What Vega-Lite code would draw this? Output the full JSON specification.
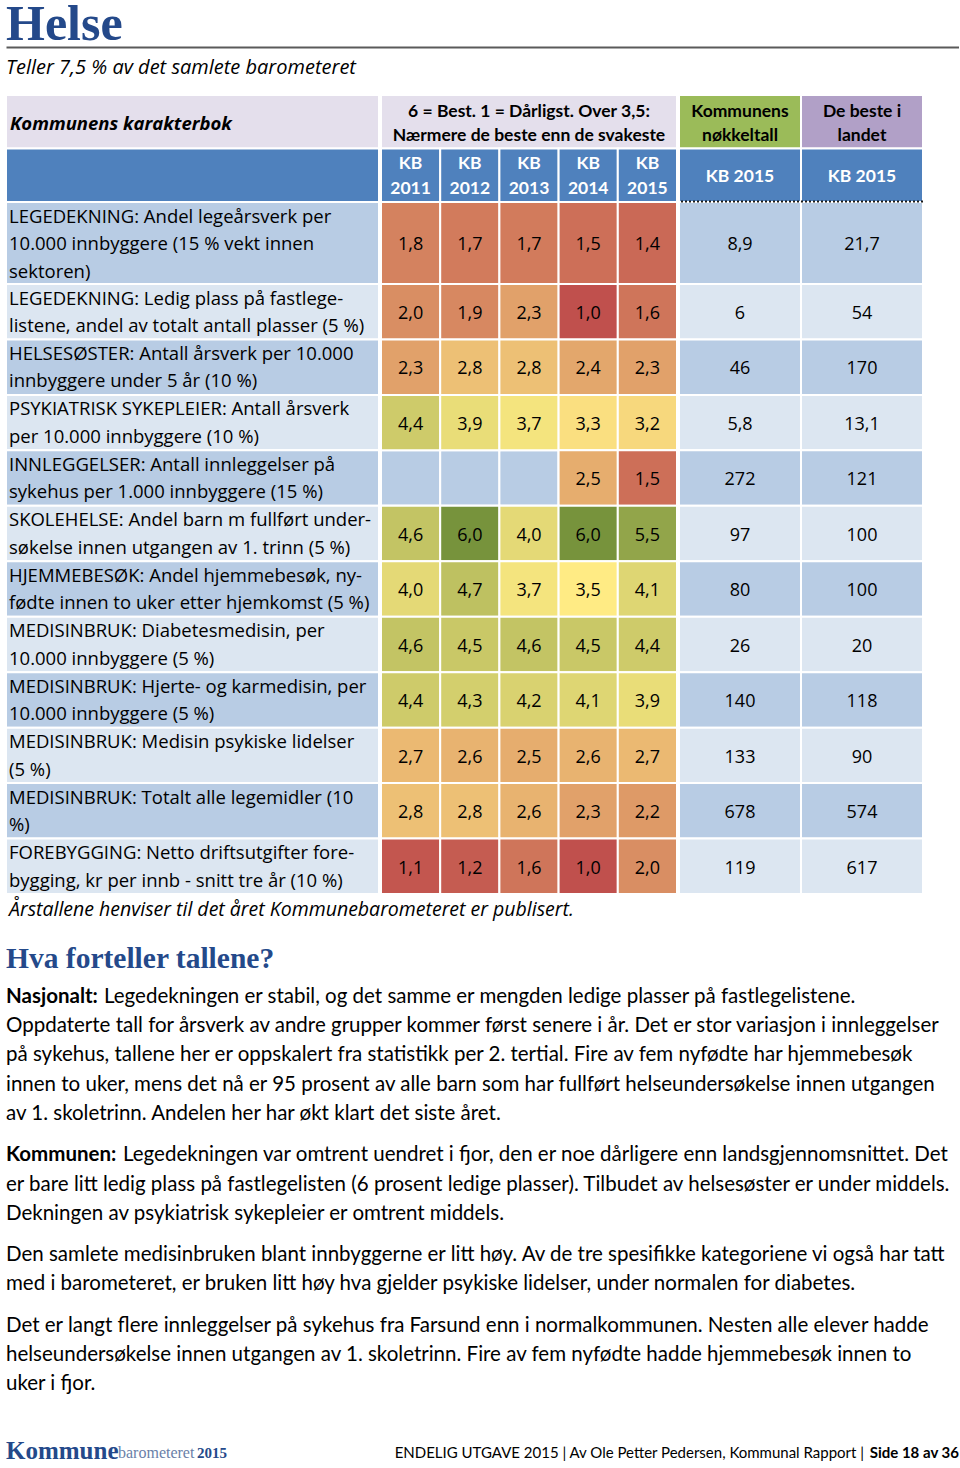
{
  "$schema": "https://vega.github.io/schema/vega-lite/v6.json",
  "background": "white",
  "padding": {"left": 5, "top": 0, "right": 0, "bottom": 0},
  "spacing": 0,
  "config": {
    "view": {"stroke": null},
    "locale": {"number": {"decimal": ",", "thousands": " ", "grouping": [3], "currency": ["", " kr"]}}
  },
  "datasets": {
    "labels": [
      {"r": -2, "label": ["Kommunens karakterbok"]},
      {"r": -1, "label": [""]},
      {"r": 0, "label": ["LEGEDEKNING: Andel legeårsverk per", "10.000 innbyggere (15 % vekt innen", "sektoren)"]},
      {"r": 1, "label": ["LEGEDEKNING: Ledig plass på fastlege-", "listene, andel av totalt antall plasser (5 %)"]},
      {"r": 2, "label": ["HELSESØSTER: Antall årsverk per 10.000", "innbyggere under 5 år (10 %)"]},
      {"r": 3, "label": ["PSYKIATRISK SYKEPLEIER: Antall årsverk", "per 10.000 innbyggere (10 %)"]},
      {"r": 4, "label": ["INNLEGGELSER: Antall innleggelser på", "sykehus per 1.000 innbyggere (15 %)"]},
      {"r": 5, "label": ["SKOLEHELSE: Andel barn m fullført under-", "søkelse innen utgangen av 1. trinn (5 %)"]},
      {"r": 6, "label": ["HJEMMEBESØK: Andel hjemmebesøk, ny-", "fødte innen to uker etter hjemkomst (5 %)"]},
      {"r": 7, "label": ["MEDISINBRUK: Diabetesmedisin, per", "10.000 innbyggere (5 %)"]},
      {"r": 8, "label": ["MEDISINBRUK: Hjerte- og karmedisin, per", "10.000 innbyggere (5 %)"]},
      {"r": 9, "label": ["MEDISINBRUK: Medisin psykiske lidelser", "(5 %)"]},
      {"r": 10, "label": ["MEDISINBRUK: Totalt alle legemidler (10", "%)"]},
      {"r": 11, "label": ["FOREBYGGING: Netto driftsutgifter fore-", "bygging, kr per innb - snitt tre år (10 %)"]}
    ],
    "yearheads": [
      {"r": -2, "text": ["6 = Best. 1 = Dårligst. Over 3,5:", "Nærmere de beste enn de svakeste"]},
      {"r": -1, "year": "2011", "text": ["KB", "2011"]},
      {"r": -1, "year": "2012", "text": ["KB", "2012"]},
      {"r": -1, "year": "2013", "text": ["KB", "2013"]},
      {"r": -1, "year": "2014", "text": ["KB", "2014"]},
      {"r": -1, "year": "2015", "text": ["KB", "2015"]}
    ],
    "grades": [
      {"r": 0, "year": "2011", "grade": 1.8}, {"r": 0, "year": "2012", "grade": 1.7}, {"r": 0, "year": "2013", "grade": 1.7}, {"r": 0, "year": "2014", "grade": 1.5}, {"r": 0, "year": "2015", "grade": 1.4},
      {"r": 1, "year": "2011", "grade": 2.0}, {"r": 1, "year": "2012", "grade": 1.9}, {"r": 1, "year": "2013", "grade": 2.3}, {"r": 1, "year": "2014", "grade": 1.0}, {"r": 1, "year": "2015", "grade": 1.6},
      {"r": 2, "year": "2011", "grade": 2.3}, {"r": 2, "year": "2012", "grade": 2.8}, {"r": 2, "year": "2013", "grade": 2.8}, {"r": 2, "year": "2014", "grade": 2.4}, {"r": 2, "year": "2015", "grade": 2.3},
      {"r": 3, "year": "2011", "grade": 4.4}, {"r": 3, "year": "2012", "grade": 3.9}, {"r": 3, "year": "2013", "grade": 3.7}, {"r": 3, "year": "2014", "grade": 3.3}, {"r": 3, "year": "2015", "grade": 3.2},
      {"r": 4, "year": "2011", "grade": null}, {"r": 4, "year": "2012", "grade": null}, {"r": 4, "year": "2013", "grade": null}, {"r": 4, "year": "2014", "grade": 2.5}, {"r": 4, "year": "2015", "grade": 1.5},
      {"r": 5, "year": "2011", "grade": 4.6}, {"r": 5, "year": "2012", "grade": 6.0}, {"r": 5, "year": "2013", "grade": 4.0}, {"r": 5, "year": "2014", "grade": 6.0}, {"r": 5, "year": "2015", "grade": 5.5},
      {"r": 6, "year": "2011", "grade": 4.0}, {"r": 6, "year": "2012", "grade": 4.7}, {"r": 6, "year": "2013", "grade": 3.7}, {"r": 6, "year": "2014", "grade": 3.5}, {"r": 6, "year": "2015", "grade": 4.1},
      {"r": 7, "year": "2011", "grade": 4.6}, {"r": 7, "year": "2012", "grade": 4.5}, {"r": 7, "year": "2013", "grade": 4.6}, {"r": 7, "year": "2014", "grade": 4.5}, {"r": 7, "year": "2015", "grade": 4.4},
      {"r": 8, "year": "2011", "grade": 4.4}, {"r": 8, "year": "2012", "grade": 4.3}, {"r": 8, "year": "2013", "grade": 4.2}, {"r": 8, "year": "2014", "grade": 4.1}, {"r": 8, "year": "2015", "grade": 3.9},
      {"r": 9, "year": "2011", "grade": 2.7}, {"r": 9, "year": "2012", "grade": 2.6}, {"r": 9, "year": "2013", "grade": 2.5}, {"r": 9, "year": "2014", "grade": 2.6}, {"r": 9, "year": "2015", "grade": 2.7},
      {"r": 10, "year": "2011", "grade": 2.8}, {"r": 10, "year": "2012", "grade": 2.8}, {"r": 10, "year": "2013", "grade": 2.6}, {"r": 10, "year": "2014", "grade": 2.3}, {"r": 10, "year": "2015", "grade": 2.2},
      {"r": 11, "year": "2011", "grade": 1.1}, {"r": 11, "year": "2012", "grade": 1.2}, {"r": 11, "year": "2013", "grade": 1.6}, {"r": 11, "year": "2014", "grade": 1.0}, {"r": 11, "year": "2015", "grade": 2.0}
    ],
    "keyheads": [
      {"r": -2, "m": "Kommunens", "text": ["Kommunens", "nøkkeltall"]},
      {"r": -2, "m": "Beste", "text": ["De beste i", "landet"]},
      {"r": -1, "m": "Kommunens", "text": "KB 2015"},
      {"r": -1, "m": "Beste", "text": "KB 2015"}
    ],
    "keys": [
      {"r": 0, "m": "Kommunens", "v": 8.9}, {"r": 0, "m": "Beste", "v": 21.7},
      {"r": 1, "m": "Kommunens", "v": 6}, {"r": 1, "m": "Beste", "v": 54},
      {"r": 2, "m": "Kommunens", "v": 46}, {"r": 2, "m": "Beste", "v": 170},
      {"r": 3, "m": "Kommunens", "v": 5.8}, {"r": 3, "m": "Beste", "v": 13.1},
      {"r": 4, "m": "Kommunens", "v": 272}, {"r": 4, "m": "Beste", "v": 121},
      {"r": 5, "m": "Kommunens", "v": 97}, {"r": 5, "m": "Beste", "v": 100},
      {"r": 6, "m": "Kommunens", "v": 80}, {"r": 6, "m": "Beste", "v": 100},
      {"r": 7, "m": "Kommunens", "v": 26}, {"r": 7, "m": "Beste", "v": 20},
      {"r": 8, "m": "Kommunens", "v": 140}, {"r": 8, "m": "Beste", "v": 118},
      {"r": 9, "m": "Kommunens", "v": 133}, {"r": 9, "m": "Beste", "v": 90},
      {"r": 10, "m": "Kommunens", "v": 678}, {"r": 10, "m": "Beste", "v": 574},
      {"r": 11, "m": "Kommunens", "v": 119}, {"r": 11, "m": "Beste", "v": 617}
    ],
    "para": [
      {"p": "P1", "line": 1, "lead": "Nasjonalt:", "text": "Legedekningen er stabil, og det samme er mengden ledige plasser på fastlegelistene."},
      {"p": "P1", "line": 2, "text": "Oppdaterte tall for årsverk av andre grupper kommer først senere i år. Det er stor variasjon i innleggelser"},
      {"p": "P1", "line": 3, "text": "på sykehus, tallene her er oppskalert fra statistikk per 2. tertial. Fire av fem nyfødte har hjemmebesøk"},
      {"p": "P1", "line": 4, "text": "innen to uker, mens det nå er 95 prosent av alle barn som har fullført helseundersøkelse innen utgangen"},
      {"p": "P1", "line": 5, "text": "av 1. skoletrinn. Andelen her har økt klart det siste året."},
      {"p": "P2", "line": 1, "lead": "Kommunen:", "text": "Legedekningen var omtrent uendret i fjor, den er noe dårligere enn landsgjennomsnittet. Det"},
      {"p": "P2", "line": 2, "text": "er bare litt ledig plass på fastlegelisten (6 prosent ledige plasser). Tilbudet av helsesøster er under middels."},
      {"p": "P2", "line": 3, "text": "Dekningen av psykiatrisk sykepleier er omtrent middels."},
      {"p": "P3", "line": 1, "text": "Den samlete medisinbruken blant innbyggerne er litt høy. Av de tre spesifikke kategoriene vi også har tatt"},
      {"p": "P3", "line": 2, "text": "med i barometeret, er bruken litt høy hva gjelder psykiske lidelser, under normalen for diabetes."},
      {"p": "P4", "line": 1, "text": "Det er langt flere innleggelser på sykehus fra Farsund enn i normalkommunen. Nesten alle elever hadde"},
      {"p": "P4", "line": 2, "text": "helseundersøkelse innen utgangen av 1. skoletrinn. Fire av fem nyfødte hadde hjemmebesøk innen to"},
      {"p": "P4", "line": 3, "text": "uker i fjor."}
    ]
  },
  "vconcat": [
    {
      "width": 953, "height": 46,
      "data": {"values": [{"t": "Helse"}]},
      "mark": {"type": "text", "align": "left", "baseline": "alphabetic", "dy": 16, "font": "Liberation Serif", "fontWeight": "bold", "fontSize": 50, "color": "#24498A"},
      "encoding": {
        "x": {"field": "t", "type": "nominal", "scale": {"type": "point", "padding": 0, "align": 0},
              "axis": {"orient": "bottom", "domain": true, "domainColor": "#5A5A5A", "domainWidth": 2, "ticks": false, "labels": false, "title": null, "grid": false}},
        "text": {"field": "t"}
      }
    },
    {
      "width": 953, "height": 42,
      "data": {"values": [{"t": "Teller 7,5 % av det samlete barometeret"}]},
      "mark": {"type": "text", "align": "left", "baseline": "middle", "dy": -3, "font": "Open Sans", "fontStyle": "italic", "fontSize": 20, "color": "#000000"},
      "encoding": {
        "x": {"field": "t", "type": "nominal", "scale": {"type": "point", "padding": 0, "align": 0}, "axis": null},
        "text": {"field": "t"}
      }
    },
    {
      "spacing": 0,
      "hconcat": [
        {
          "width": 373, "height": 802,
          "data": {"name": "labels"},
          "resolve": {"scale": {"y": "independent"}},
          "layer": [
            {
              "mark": {"type": "rect", "stroke": "white", "strokeWidth": 2},
              "encoding": {
                "x": {"datum": "Indikator", "type": "nominal", "axis": null, "scale": {"paddingInner": 0, "paddingOuter": 0}},
                "y": {"field": "r", "type": "quantitative", "bin": {"binned": true, "step": 1}, "axis": null,
                      "scale": {"type": "linear", "domain": [-2, 0, 1, 12], "range": [2.5, 109.5, 191.5, 801.5], "zero": false, "nice": false}},
                "color": {"condition": [
                  {"test": "datum.r === -2", "value": "#E4DFEC"},
                  {"test": "datum.r === -1", "value": "#4F81BD"},
                  {"test": "datum.r % 2 === 0", "value": "#B8CCE4"}], "value": "#DCE6F1"}
              }
            },
            {
              "transform": [{"filter": "datum.r >= 0"}],
              "mark": {"type": "text", "align": "left", "baseline": "middle", "dx": 3, "dy": 15, "font": "Open Sans", "fontSize": 18.5, "lineHeight": 27.5, "color": "#000000"},
              "encoding": {
                "x": {"datum": "Indikator", "type": "nominal", "bandPosition": 0, "axis": null, "scale": {"paddingInner": 0, "paddingOuter": 0}},
                "y": {"field": "r", "type": "quantitative", "axis": null,
                      "scale": {"type": "linear", "domain": [-2, 0, 1, 12], "range": [2.5, 109.5, 191.5, 801.5], "zero": false, "nice": false}},
                "text": {"field": "label"}
              }
            },
            {
              "transform": [{"filter": "datum.r === -2"}],
              "mark": {"type": "text", "align": "left", "baseline": "middle", "dx": 4, "dy": 2.5, "font": "Open Sans", "fontStyle": "italic", "fontWeight": "bold", "fontSize": 18.5, "color": "#000000"},
              "encoding": {
                "x": {"datum": "Indikator", "type": "nominal", "bandPosition": 0, "axis": null, "scale": {"paddingInner": 0, "paddingOuter": 0}},
                "y": {"field": "r", "type": "quantitative", "axis": null,
                      "scale": {"type": "linear", "domain": [-2, -1, 0, 1, 11], "range": [29.25, 82.75, 150.5, 219.2, 774.1], "zero": false, "nice": false}},
                "text": {"field": "label"}
              }
            }
          ]
        },
        {
          "width": 296, "height": 802,
          "resolve": {"scale": {"y": "independent"}},
          "layer": [
            {
              "data": {"name": "yearheads"},
              "transform": [{"filter": "datum.r === -2"}],
              "mark": {"type": "rect", "stroke": "white", "strokeWidth": 2, "color": "#E4DFEC"},
              "encoding": {
                "y": {"field": "r", "type": "quantitative", "bin": {"binned": true, "step": 1}, "axis": null,
                      "scale": {"type": "linear", "domain": [-2, 0, 1, 12], "range": [2.5, 109.5, 191.5, 801.5], "zero": false, "nice": false}}
              }
            },
            {
              "data": {"name": "yearheads"},
              "transform": [{"filter": "datum.r === -2"}],
              "mark": {"type": "text", "align": "center", "baseline": "middle", "dy": 17, "font": "Lato", "fontWeight": "bold", "fontSize": 17.5, "lineHeight": 24, "color": "#000000"},
              "encoding": {
                "y": {"field": "r", "type": "quantitative", "axis": null,
                      "scale": {"type": "linear", "domain": [-2, 0, 1, 12], "range": [2.5, 109.5, 191.5, 801.5], "zero": false, "nice": false}},
                "text": {"field": "text"}
              }
            },
            {
              "data": {"name": "yearheads"},
              "transform": [{"filter": "datum.r === -1"}],
              "mark": {"type": "rect", "stroke": "white", "strokeWidth": 2, "color": "#4F81BD"},
              "encoding": {
                "x": {"field": "year", "type": "nominal", "axis": null, "scale": {"domain": ["2011", "2012", "2013", "2014", "2015"], "paddingInner": 0, "paddingOuter": 0}},
                "y": {"field": "r", "type": "quantitative", "bin": {"binned": true, "step": 1}, "axis": null,
                      "scale": {"type": "linear", "domain": [-2, 0, 1, 12], "range": [2.5, 109.5, 191.5, 801.5], "zero": false, "nice": false}}
              }
            },
            {
              "data": {"name": "yearheads"},
              "transform": [{"filter": "datum.r === -1"}],
              "mark": {"type": "text", "align": "center", "baseline": "middle", "dy": 16, "font": "Lato", "fontWeight": "bold", "fontSize": 17.5, "lineHeight": 24.5, "color": "#FFFFFF"},
              "encoding": {
                "x": {"field": "year", "type": "nominal", "axis": null, "scale": {"domain": ["2011", "2012", "2013", "2014", "2015"], "paddingInner": 0, "paddingOuter": 0}},
                "y": {"field": "r", "type": "quantitative", "axis": null,
                      "scale": {"type": "linear", "domain": [-2, 0, 1, 12], "range": [2.5, 109.5, 191.5, 801.5], "zero": false, "nice": false}},
                "text": {"field": "text"}
              }
            },
            {
              "data": {"name": "grades"},
              "mark": {"type": "rect", "stroke": "white", "strokeWidth": 2},
              "encoding": {
                "x": {"field": "year", "type": "nominal", "axis": null, "scale": {"domain": ["2011", "2012", "2013", "2014", "2015"], "paddingInner": 0, "paddingOuter": 0}},
                "y": {"field": "r", "type": "quantitative", "bin": {"binned": true, "step": 1}, "axis": null,
                      "scale": {"type": "linear", "domain": [-2, 0, 1, 12], "range": [2.5, 109.5, 191.5, 801.5], "zero": false, "nice": false}},
                "color": {"condition": {"test": "datum.r % 2 === 0", "value": "#B8CCE4"}, "value": "#DCE6F1"}
              }
            },
            {
              "data": {"name": "grades"},
              "mark": {"type": "rect", "stroke": "white", "strokeWidth": 2},
              "encoding": {
                "x": {"field": "year", "type": "nominal", "axis": null, "scale": {"domain": ["2011", "2012", "2013", "2014", "2015"], "paddingInner": 0, "paddingOuter": 0}},
                "y": {"field": "r", "type": "quantitative", "bin": {"binned": true, "step": 1}, "axis": null,
                      "scale": {"type": "linear", "domain": [-2, 0, 1, 12], "range": [2.5, 109.5, 191.5, 801.5], "zero": false, "nice": false}},
                "color": {"field": "grade", "type": "quantitative", "legend": null,
                          "scale": {"domain": [1, 3.5, 6], "range": ["#C0504D", "#FFEB84", "#77933C"], "interpolate": "rgb"}}
              }
            },
            {
              "data": {"name": "grades"},
              "transform": [{"filter": "datum.grade !== null"}],
              "mark": {"type": "text", "align": "center", "baseline": "middle", "dy": 2.5, "font": "Open Sans", "fontSize": 18, "color": "#000000"},
              "encoding": {
                "x": {"field": "year", "type": "nominal", "axis": null, "scale": {"domain": ["2011", "2012", "2013", "2014", "2015"], "paddingInner": 0, "paddingOuter": 0}},
                "y": {"field": "r", "type": "quantitative", "axis": null,
                      "scale": {"type": "linear", "domain": [-2, -1, 0, 1, 11], "range": [29.25, 82.75, 150.5, 219.2, 774.1], "zero": false, "nice": false}},
                "text": {"field": "grade", "type": "quantitative", "format": ".1f"}
              }
            }
          ]
        },
        {
          "width": 244, "height": 802,
          "resolve": {"scale": {"y": "independent"}},
          "layer": [
            {
              "data": {"name": "keyheads"},
              "mark": {"type": "rect", "stroke": "white", "strokeWidth": 2},
              "encoding": {
                "x": {"field": "m", "type": "nominal", "axis": null, "scale": {"domain": ["Kommunens", "Beste"], "paddingInner": 0, "paddingOuter": 0}},
                "y": {"field": "r", "type": "quantitative", "bin": {"binned": true, "step": 1}, "axis": null,
                      "scale": {"type": "linear", "domain": [-2, 0, 1, 12], "range": [2.5, 109.5, 191.5, 801.5], "zero": false, "nice": false}},
                "color": {"condition": [
                  {"test": "datum.r === -2 && datum.m === 'Kommunens'", "value": "#9BBB59"},
                  {"test": "datum.r === -2", "value": "#B1A0C7"}], "value": "#4F81BD"}
              }
            },
            {
              "data": {"name": "keyheads"},
              "transform": [{"filter": "datum.r === -2"}],
              "mark": {"type": "text", "align": "center", "baseline": "middle", "dy": 17, "font": "Lato", "fontWeight": "bold", "fontSize": 17.5, "lineHeight": 24, "color": "#000000"},
              "encoding": {
                "x": {"field": "m", "type": "nominal", "axis": null, "scale": {"domain": ["Kommunens", "Beste"], "paddingInner": 0, "paddingOuter": 0}},
                "y": {"field": "r", "type": "quantitative", "axis": null,
                      "scale": {"type": "linear", "domain": [-2, 0, 1, 12], "range": [2.5, 109.5, 191.5, 801.5], "zero": false, "nice": false}},
                "text": {"field": "text"}
              }
            },
            {
              "data": {"name": "keyheads"},
              "transform": [{"filter": "datum.r === -1"}],
              "mark": {"type": "text", "align": "center", "baseline": "middle", "dy": 2.5, "font": "Lato", "fontWeight": "bold", "fontSize": 17.5, "color": "#FFFFFF"},
              "encoding": {
                "x": {"field": "m", "type": "nominal", "axis": null, "scale": {"domain": ["Kommunens", "Beste"], "paddingInner": 0, "paddingOuter": 0}},
                "y": {"field": "r", "type": "quantitative", "axis": null,
                      "scale": {"type": "linear", "domain": [-2, -1, 0, 1, 11], "range": [29.25, 82.75, 150.5, 219.2, 774.1], "zero": false, "nice": false}},
                "text": {"field": "text"}
              }
            },
            {
              "data": {"name": "keys"},
              "mark": {"type": "rect", "stroke": "white", "strokeWidth": 2},
              "encoding": {
                "x": {"field": "m", "type": "nominal", "axis": null, "scale": {"domain": ["Kommunens", "Beste"], "paddingInner": 0, "paddingOuter": 0}},
                "y": {"field": "r", "type": "quantitative", "bin": {"binned": true, "step": 1}, "axis": null,
                      "scale": {"type": "linear", "domain": [-2, 0, 1, 12], "range": [2.5, 109.5, 191.5, 801.5], "zero": false, "nice": false}},
                "color": {"condition": {"test": "datum.r % 2 === 0", "value": "#B8CCE4"}, "value": "#DCE6F1"}
              }
            },
            {
              "data": {"name": "keys"},
              "mark": {"type": "text", "align": "center", "baseline": "middle", "dy": 2.5, "font": "Open Sans", "fontSize": 18, "color": "#000000"},
              "encoding": {
                "x": {"field": "m", "type": "nominal", "axis": null, "scale": {"domain": ["Kommunens", "Beste"], "paddingInner": 0, "paddingOuter": 0}},
                "y": {"field": "r", "type": "quantitative", "axis": null,
                      "scale": {"type": "linear", "domain": [-2, -1, 0, 1, 11], "range": [29.25, 82.75, 150.5, 219.2, 774.1], "zero": false, "nice": false}},
                "text": {"field": "v", "type": "quantitative", "format": ".1~f"}
              }
            },
            {
              "data": {"name": "keyheads"},
              "transform": [{"filter": "datum.r === -1 && datum.m === 'Kommunens'"}],
              "mark": {"type": "rule", "color": "#1A1A1A", "strokeWidth": 2, "strokeDash": [2, 2]},
              "encoding": {
                "y": {"datum": 0, "type": "quantitative", "axis": null,
                      "scale": {"type": "linear", "domain": [-2, 0, 1, 12], "range": [2.5, 109.5, 191.5, 801.5], "zero": false, "nice": false}}
              }
            }
          ]
        }
      ]
    },
    {
      "width": 953, "height": 29,
      "data": {"values": [{"t": "Årstallene henviser til det året Kommunebarometeret er publisert."}]},
      "mark": {"type": "text", "align": "left", "baseline": "middle", "dx": 3, "font": "Open Sans", "fontStyle": "italic", "fontSize": 19.5, "color": "#000000"},
      "encoding": {
        "x": {"field": "t", "type": "nominal", "scale": {"type": "point", "padding": 0, "align": 0}, "axis": null},
        "text": {"field": "t"}
      }
    },
    {
      "width": 953, "height": 57.5,
      "data": {"values": [{"t": "Hva forteller tallene?"}]},
      "mark": {"type": "text", "align": "left", "baseline": "middle", "dy": 6, "font": "Liberation Serif", "fontWeight": "bold", "fontSize": 29.5, "color": "#24498A"},
      "encoding": {
        "x": {"field": "t", "type": "nominal", "scale": {"type": "point", "padding": 0, "align": 0}, "axis": null},
        "text": {"field": "t"}
      }
    },
    {
      "spacing": 11.7,
      "vconcat": [
        {
          "width": 953, "height": {"step": 29.3},
          "data": {"name": "para"},
          "transform": [{"filter": "datum.p === 'P1'"}],
          "encoding": {
            "x": {"field": "p", "type": "nominal", "axis": null, "scale": {"type": "point", "padding": 0, "align": 0}},
            "y": {"field": "line", "type": "ordinal", "axis": null, "scale": {"type": "band", "paddingInner": 0, "paddingOuter": 0}}
          },
          "layer": [
            {
              "transform": [{"filter": "!datum.lead"}],
              "mark": {"type": "text", "align": "left", "baseline": "middle", "font": "Lato", "fontSize": 20.5, "color": "#000000"},
              "encoding": {"text": {"field": "text"}}
            },
            {
              "transform": [{"filter": "datum.lead"}],
              "mark": {"type": "text", "align": "left", "baseline": "middle", "font": "Lato", "fontWeight": "bold", "fontSize": 20.5, "color": "#000000"},
              "encoding": {"text": {"field": "lead"}}
            },
            {
              "transform": [{"filter": "datum.lead"}],
              "mark": {"type": "text", "align": "left", "baseline": "middle", "dx": 98, "font": "Lato", "fontSize": 20.5, "color": "#000000"},
              "encoding": {"text": {"field": "text"}}
            }
          ]
        },
        {
          "width": 953, "height": {"step": 29.3},
          "data": {"name": "para"},
          "transform": [{"filter": "datum.p === 'P2'"}],
          "encoding": {
            "x": {"field": "p", "type": "nominal", "axis": null, "scale": {"type": "point", "padding": 0, "align": 0}},
            "y": {"field": "line", "type": "ordinal", "axis": null, "scale": {"type": "band", "paddingInner": 0, "paddingOuter": 0}}
          },
          "layer": [
            {
              "transform": [{"filter": "!datum.lead"}],
              "mark": {"type": "text", "align": "left", "baseline": "middle", "font": "Lato", "fontSize": 20.5, "color": "#000000"},
              "encoding": {"text": {"field": "text"}}
            },
            {
              "transform": [{"filter": "datum.lead"}],
              "mark": {"type": "text", "align": "left", "baseline": "middle", "font": "Lato", "fontWeight": "bold", "fontSize": 20.5, "color": "#000000"},
              "encoding": {"text": {"field": "lead"}}
            },
            {
              "transform": [{"filter": "datum.lead"}],
              "mark": {"type": "text", "align": "left", "baseline": "middle", "dx": 117, "font": "Lato", "fontSize": 20.5, "color": "#000000"},
              "encoding": {"text": {"field": "text"}}
            }
          ]
        },
        {
          "width": 953, "height": {"step": 29.3},
          "data": {"name": "para"},
          "transform": [{"filter": "datum.p === 'P3'"}],
          "mark": {"type": "text", "align": "left", "baseline": "middle", "font": "Lato", "fontSize": 20.5, "color": "#000000"},
          "encoding": {
            "x": {"field": "p", "type": "nominal", "axis": null, "scale": {"type": "point", "padding": 0, "align": 0}},
            "y": {"field": "line", "type": "ordinal", "axis": null, "scale": {"type": "band", "paddingInner": 0, "paddingOuter": 0}},
            "text": {"field": "text"}
          }
        },
        {
          "width": 953, "height": {"step": 29.3},
          "data": {"name": "para"},
          "transform": [{"filter": "datum.p === 'P4'"}],
          "mark": {"type": "text", "align": "left", "baseline": "middle", "font": "Lato", "fontSize": 20.5, "color": "#000000"},
          "encoding": {
            "x": {"field": "p", "type": "nominal", "axis": null, "scale": {"type": "point", "padding": 0, "align": 0}},
            "y": {"field": "line", "type": "ordinal", "axis": null, "scale": {"type": "band", "paddingInner": 0, "paddingOuter": 0}},
            "text": {"field": "text"}
          }
        }
      ]
    },
    {
      "width": 953, "height": 70,
      "data": {"values": [{"brand": "Kommune", "brand2": "barometeret", "brand3": "2015", "info": "ENDELIG UTGAVE 2015 | Av Ole Petter Pedersen, Kommunal Rapport |", "page": "Side 18 av 36"}]},
      "resolve": {"scale": {"x": "independent"}},
      "layer": [
        {
          "mark": {"type": "text", "align": "left", "baseline": "middle", "dy": 17, "font": "Liberation Serif", "fontWeight": "bold", "fontSize": 25, "color": "#24498A"},
          "encoding": {
            "x": {"field": "brand", "type": "nominal", "axis": null, "scale": {"type": "point", "padding": 0, "align": 0}},
            "text": {"field": "brand"}
          }
        },
        {
          "mark": {"type": "text", "align": "left", "baseline": "middle", "dx": 112, "dy": 19, "font": "Liberation Serif", "fontSize": 16, "color": "#6A7FA8"},
          "encoding": {
            "x": {"field": "brand", "type": "nominal", "axis": null, "scale": {"type": "point", "padding": 0, "align": 0}},
            "text": {"field": "brand2"}
          }
        },
        {
          "mark": {"type": "text", "align": "left", "baseline": "middle", "dx": 191, "dy": 19, "font": "Liberation Serif", "fontWeight": "bold", "fontSize": 15, "color": "#24498A"},
          "encoding": {
            "x": {"field": "brand", "type": "nominal", "axis": null, "scale": {"type": "point", "padding": 0, "align": 0}},
            "text": {"field": "brand3"}
          }
        },
        {
          "mark": {"type": "text", "align": "right", "baseline": "middle", "dx": -95, "dy": 19, "font": "Lato", "fontSize": 15, "color": "#000000"},
          "encoding": {
            "x": {"field": "brand", "type": "nominal", "axis": null, "scale": {"type": "point", "padding": 0, "align": 1}},
            "text": {"field": "info"}
          }
        },
        {
          "mark": {"type": "text", "align": "right", "baseline": "middle", "dy": 19, "font": "Lato", "fontWeight": "bold", "fontSize": 15, "color": "#000000"},
          "encoding": {
            "x": {"field": "brand", "type": "nominal", "axis": null, "scale": {"type": "point", "padding": 0, "align": 1}},
            "text": {"field": "page"}
          }
        }
      ]
    }
  ]
}
